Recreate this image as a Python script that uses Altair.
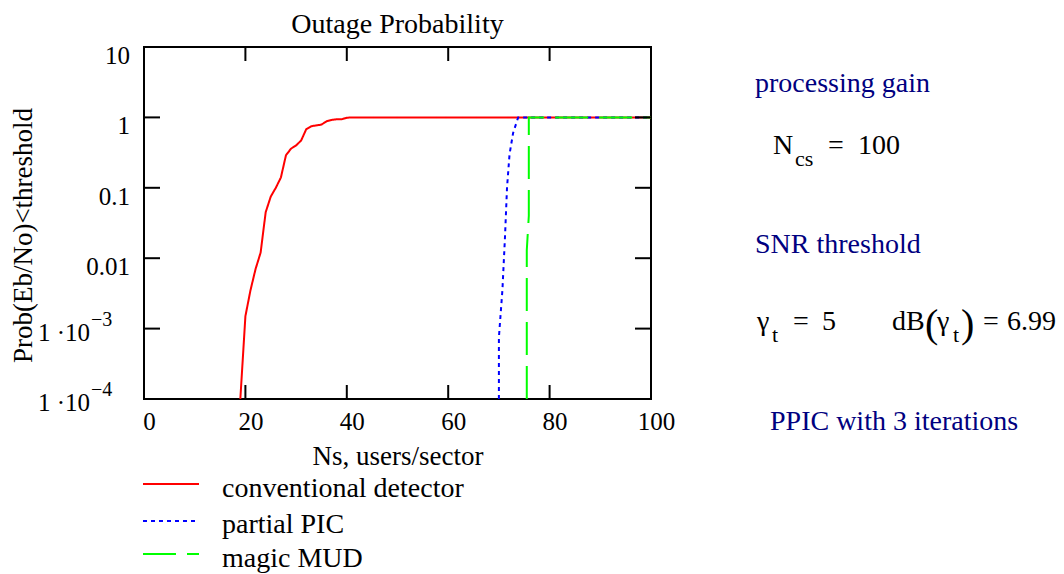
import altair as alt
import pandas as pd

# ---------------- data ----------------
series_names = ["conventional detector", "partial PIC", "magic MUD"]
series_colors = ["#ff0000", "#0000ff", "#00ff00"]
series_dashes = [[1, 0], [4, 4], [33, 11]]

conv_ns = [19, 20, 21, 22, 23, 24, 25, 26, 27, 28, 29, 30, 31, 32, 33, 34, 35,
           36, 37, 38, 39, 40, 41, 50, 60, 70, 80, 90, 100]
conv_p = [1e-4, 1.5e-3, 3.5e-3, 7e-3, 0.012, 0.045, 0.075, 0.10, 0.14, 0.29,
          0.36, 0.40, 0.47, 0.68, 0.75, 0.77, 0.79, 0.88, 0.92, 0.94, 0.94,
          0.99, 1.0, 1.0, 1.0, 1.0, 1.0, 1.0, 1.0]

pic_ns = [70, 70, 70.7, 71.2, 71.6, 72.1, 72.8, 73.8, 80, 90, 100]
pic_p = [1e-4, 7.5e-4, 3.6e-3, 0.02, 0.1, 0.3, 0.6, 1.0, 1.0, 1.0, 1.0]

mud_ns = [75.5, 75.5, 75.9, 75.9, 80, 90, 100]
mud_p = [1e-4, 0.013, 0.04, 1.0, 1.0, 1.0, 1.0]

x_label_values = [0, 20, 40, 60, 80, 100]
x_inner_ticks = [20, 40, 60, 80]
y_inner_ticks = [1, 0.1, 0.01, 0.001]
y_plain_values = [10, 1, 0.1, 0.01]
y_plain_text = ["10", "1", "0.1", "0.01"]
y_exp_values = [0.001, 0.0001]
y_exp_base = ["1 \u00b710", "1 \u00b710"]
y_exp_sup = ["\u22123", "\u22124"]

# ---------------- layout constants ----------------
FONT = "Liberation Serif"
NAVY = "#000080"
OX, OY = 144, 47          # plot origin in page pixels
W, H = 507, 352           # plot area

def frame(ns, ps, name):
    return pd.DataFrame({"Ns": ns, "p": ps, "detector": name, "i": range(len(ns))})

df = pd.concat([
    frame(conv_ns, conv_p, series_names[0]),
    frame(pic_ns, pic_p, series_names[1]),
    frame(mud_ns, mud_p, series_names[2]),
], ignore_index=True)

xscale = alt.Scale(domain=[0, 100], nice=False, zero=False)
yscale = alt.Scale(type="log", domain=[1e-4, 10], nice=False)

lines = alt.Chart(df).mark_line(strokeWidth=2, clip=True).encode(
    x=alt.X("Ns:Q", scale=xscale, axis=alt.Axis(
        values=x_label_values, format="d", title="Ns, users/sector",
        labelFont=FONT, labelFontSize=25, labelColor="black", labelOffset=5,
        labelPadding=10, labelFlush=False, ticks=False, tickSize=0,
        domain=False, grid=False,
        titleFont=FONT, titleFontSize=27, titleFontWeight="normal",
        titleColor="black", titleY=65, titleBaseline="alphabetic")),
    y=alt.Y("p:Q", scale=yscale, axis=alt.Axis(
        labels=False, ticks=False, domain=False, grid=False,
        title="Prob(Eb/No)<threshold",
        titleFont=FONT, titleFontSize=27, titleFontWeight="normal",
        titleColor="black", titleX=-121, titleY=188, titleAngle=270,
        titleBaseline="middle", titleAlign="center")),
    color=alt.Color("detector:N", scale=alt.Scale(domain=series_names, range=series_colors), legend=None),
    strokeDash=alt.StrokeDash("detector:N", scale=alt.Scale(domain=series_names, range=series_dashes), legend=None),
    order=alt.Order("i:Q"),
)

# inward ticks on all four sides
ydf = pd.DataFrame({"p": y_inner_ticks})
xdf = pd.DataFrame({"Ns": x_inner_ticks})
tick_style = dict(color="black", strokeWidth=2)
ticks_left = alt.Chart(ydf).mark_rule(**tick_style).encode(
    y=alt.Y("p:Q", scale=yscale), x=alt.value(0), x2=alt.value(16))
ticks_right = alt.Chart(ydf).mark_rule(**tick_style).encode(
    y=alt.Y("p:Q", scale=yscale), x=alt.value(W - 16), x2=alt.value(W))
ticks_bottom = alt.Chart(xdf).mark_rule(**tick_style).encode(
    x=alt.X("Ns:Q", scale=xscale), y=alt.value(H), y2=alt.value(H - 14))
ticks_top = alt.Chart(xdf).mark_rule(**tick_style).encode(
    x=alt.X("Ns:Q", scale=xscale), y=alt.value(0), y2=alt.value(14))

# y tick labels (with superscript exponents)
plain_df = pd.DataFrame({"p": y_plain_values, "t": y_plain_text})
exp_df = pd.DataFrame({"p": y_exp_values, "b": y_exp_base, "s": y_exp_sup})
ylab_plain = alt.Chart(plain_df).mark_text(
    align="right", baseline="alphabetic", font=FONT, fontSize=25, color="black", dy=17
).encode(y=alt.Y("p:Q", scale=yscale), x=alt.value(-14), text="t:N")
ylab_base = alt.Chart(exp_df).mark_text(
    align="right", baseline="alphabetic", font=FONT, fontSize=25, color="black", dy=12
).encode(y=alt.Y("p:Q", scale=yscale), x=alt.value(-54), text="b:N")
ylab_sup = alt.Chart(exp_df).mark_text(
    align="left", baseline="alphabetic", font=FONT, fontSize=20, color="black", dy=-3
).encode(y=alt.Y("p:Q", scale=yscale), x=alt.value(-53), text="s:N")

# annotations (page coordinates converted to plot coordinates)
dummy = pd.DataFrame({"k": [0]})

def note(text, px, py, size=28, color="black"):
    return alt.Chart(dummy).mark_text(
        align="left", baseline="alphabetic", font=FONT, fontSize=size, color=color
    ).encode(x=alt.value(px - OX), y=alt.value(py - OY), text=alt.value(text))

def key_line(px0, px1, py, color, dash):
    return alt.Chart(dummy).mark_rule(strokeWidth=2, color=color, strokeDash=dash).encode(
        x=alt.value(px0 - OX), x2=alt.value(px1 - OX), y=alt.value(py - OY))

# legend (below the plot)
legend_rows = [(484, 497), (521, 533), (554, 567)]
legend_layers = []
for name, col, dash, (ly, ty) in zip(series_names, series_colors, series_dashes, legend_rows):
    legend_layers.append(key_line(143, 199, ly, col, dash))
    legend_layers.append(note(name, 222, ty))

notes = [
    note("processing gain", 755, 92, color=NAVY),
    note("N", 773, 154),
    note("cs", 795, 166, size=22),
    note("=", 828, 154),
    note("100", 858, 154),
    note("SNR threshold", 755, 253, color=NAVY),
    note("\u03b3", 757, 330),
    note("t", 772, 342, size=22),
    note("=", 793, 330),
    note("5", 822, 330),
    note("dB", 892, 330),
    note("(", 925, 337, size=40),
    note("\u03b3", 937, 330),
    note("t", 953, 342, size=22),
    note(")", 961, 337, size=40),
    note("=", 983, 330),
    note("6.99", 1007, 330),
    note("PPIC with 3 iterations", 770, 430, color=NAVY),
]

chart = alt.layer(
    lines, ticks_left, ticks_right, ticks_bottom, ticks_top,
    ylab_plain, ylab_base, ylab_sup, *legend_layers, *notes
).properties(
    width=W, height=H,
    title=alt.Title("Outage Probability", font=FONT, fontSize=28,
                    fontWeight="normal", color="black", offset=5, anchor="middle"),
    autosize=alt.AutoSizeParams(type="none"),
    padding={"left": OX, "top": OY, "right": 1064 - OX - W, "bottom": 574 - OY - H},
    background="white",
).configure_view(stroke="black", strokeWidth=2)

chart.save("out.html", embed_options={"renderer": "svg", "actions": False})
